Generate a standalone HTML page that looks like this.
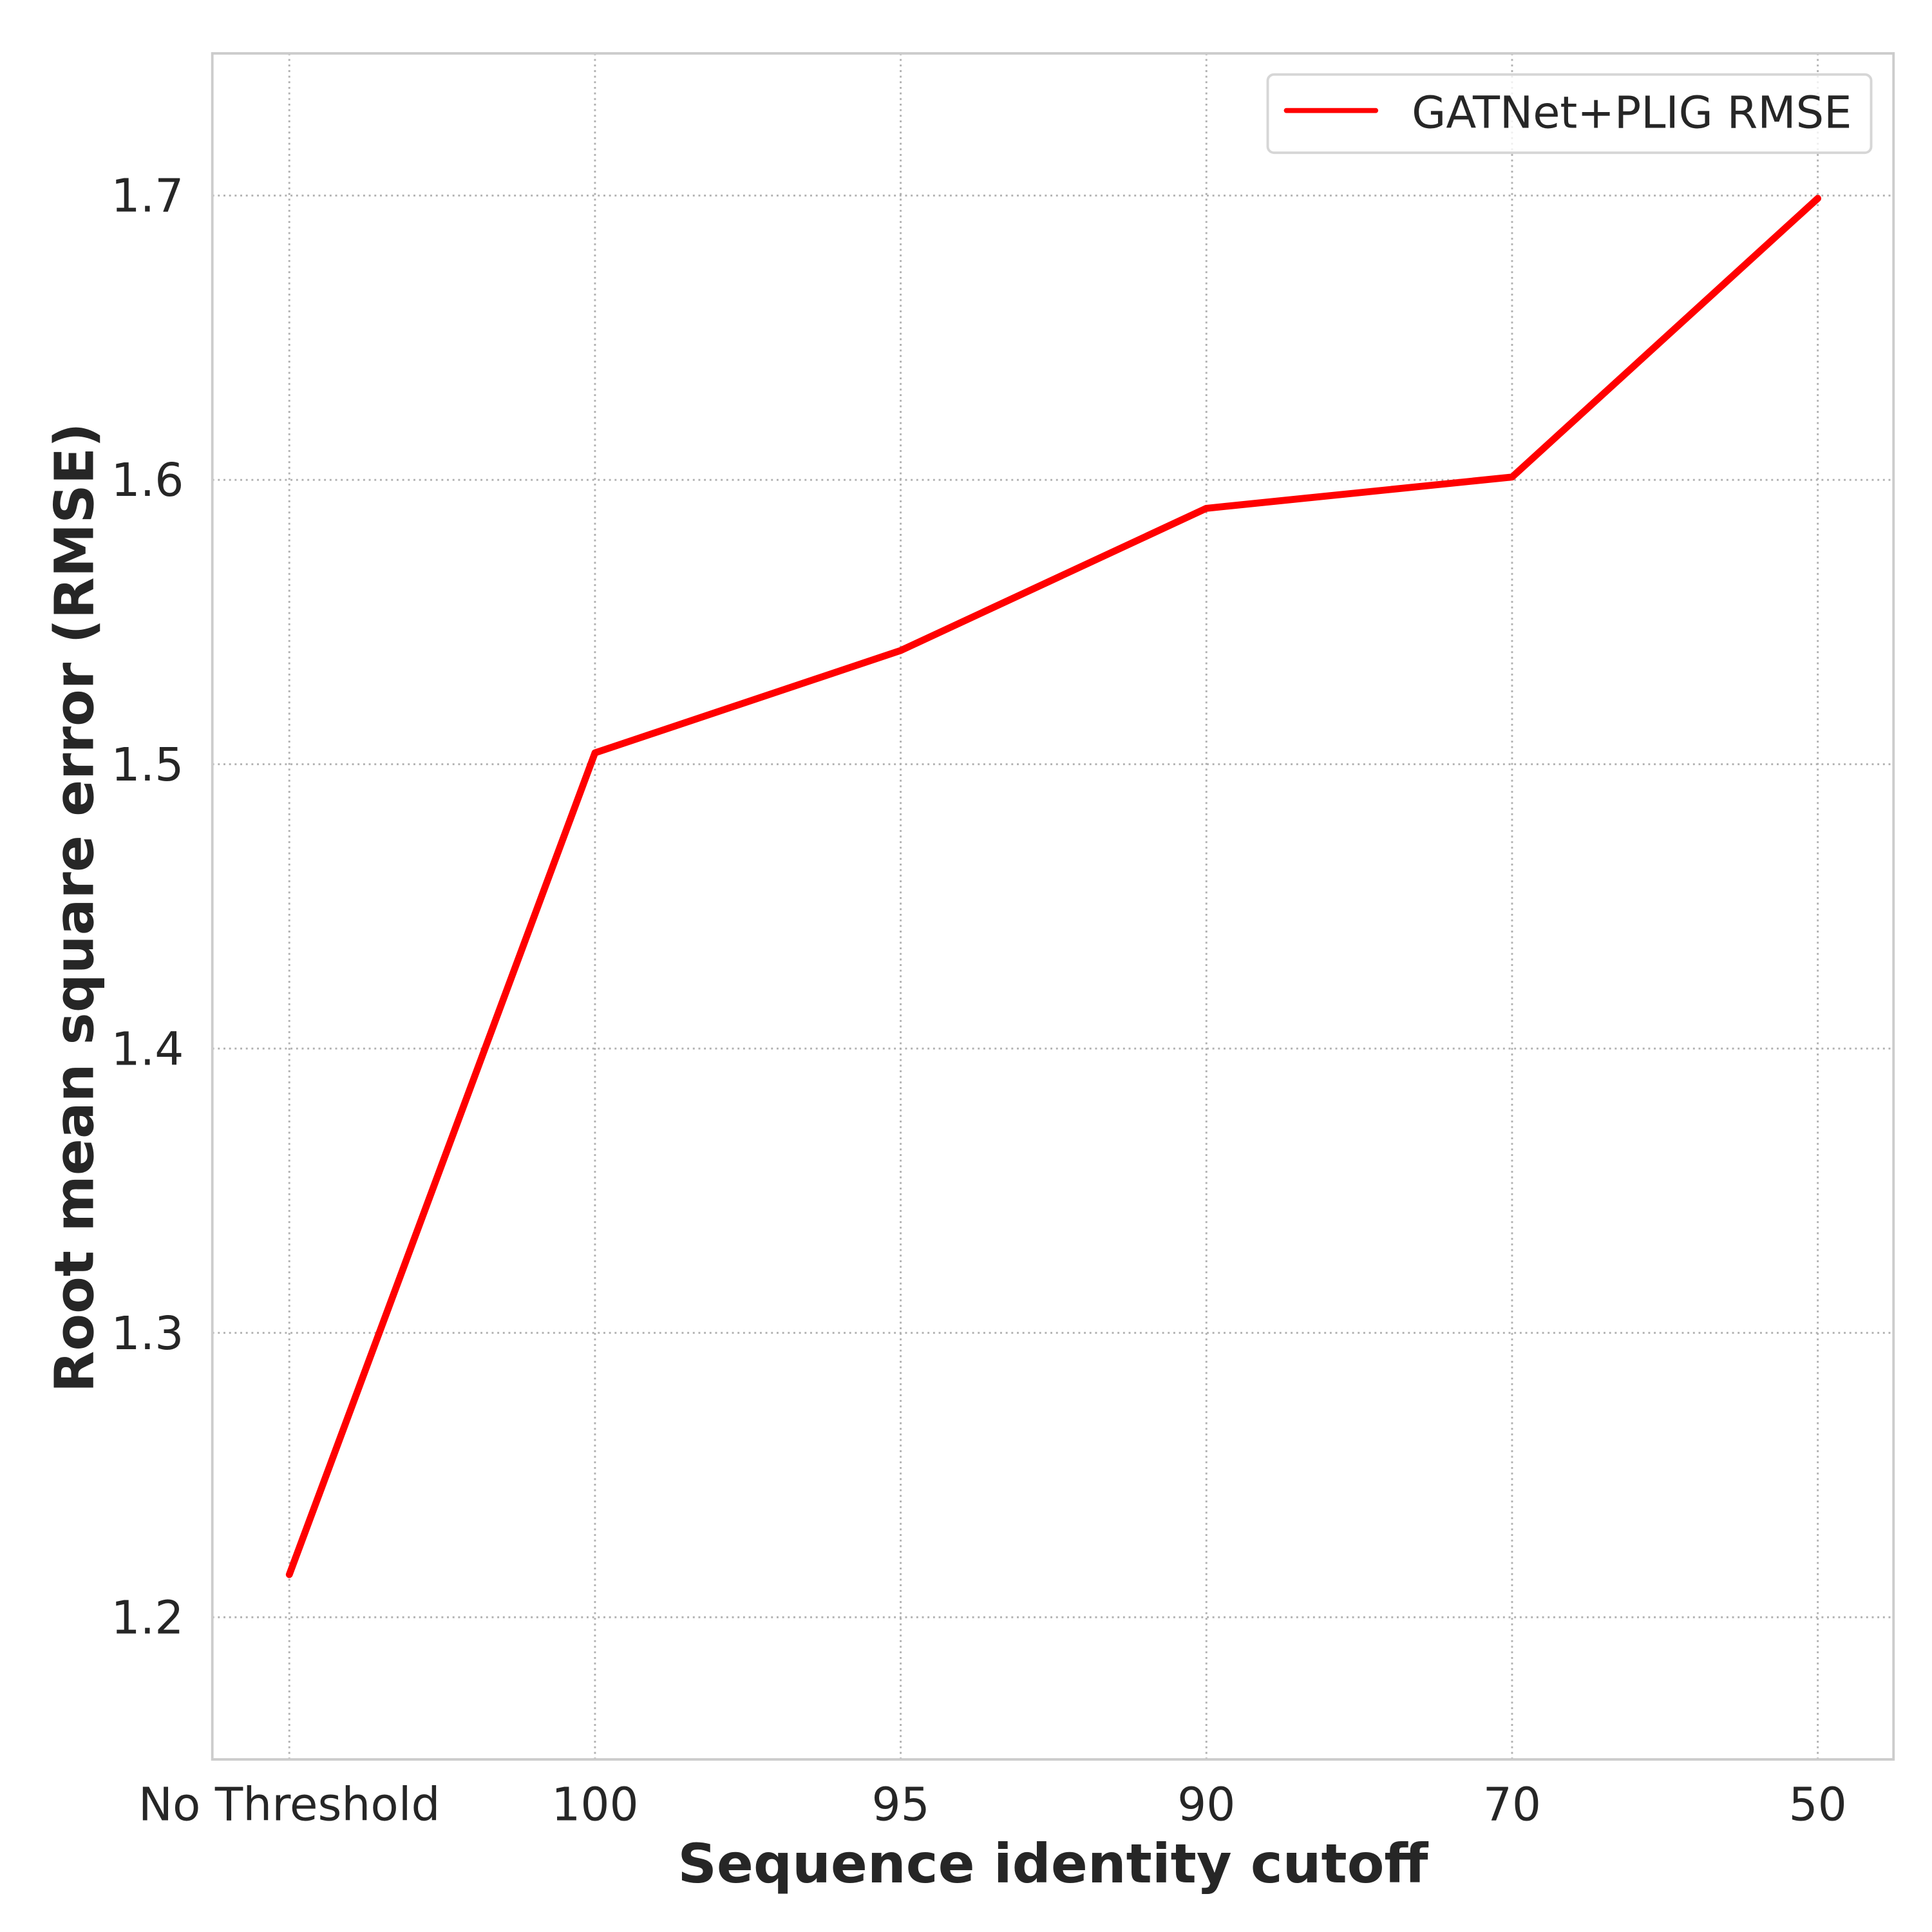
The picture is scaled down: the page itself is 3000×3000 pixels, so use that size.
<!DOCTYPE html>
<html><head><meta charset="utf-8"><style>html,body{margin:0;padding:0;background:#fff}svg{display:block}text{font-family:"DejaVu Sans","Liberation Sans",sans-serif;fill:#262626}</style></head>
<body>
<svg id="chart" width="3000" height="3000" viewBox="0 0 1556 1556" xmlns="http://www.w3.org/2000/svg">
<rect x="171" y="43" width="1354" height="1374" fill="#fff"/>
<g id="grid"></g>
<g id="ticks"></g>
<rect x="171" y="43" width="1354" height="1374" fill="none" stroke="#cccccc" stroke-width="2"/>
<g id="series"></g>
<text x="848" y="1516" font-size="43.6" font-weight="bold" text-anchor="middle">Sequence identity cutoff</text>
<text transform="translate(75,731) rotate(-90)" font-size="43.6" font-weight="bold" text-anchor="middle">Root mean square error (RMSE)</text>
<g>
<rect x="1021" y="60" width="486" height="63" rx="5" fill="#fff" fill-opacity="0.8" stroke="#d6d6d6" stroke-width="2"/>
<line x1="1036" y1="89" x2="1108" y2="89" stroke="#ff0000" stroke-width="4" stroke-linecap="round"/>
<text x="1137" y="103" font-size="35.6">GATNet+PLIG RMSE</text>
</g>
</svg>
<script>
const categories = ["No Threshold", "100", "95", "90", "70", "50"];
const rmseValues = [1.215, 1.504, 1.540, 1.590, 1.601, 1.699];
const yTicks = [1.2, 1.3, 1.4, 1.5, 1.6, 1.7];
const yTickLabels = ["1.2", "1.3", "1.4", "1.5", "1.6", "1.7"];

const NS = "http://www.w3.org/2000/svg";
const X0 = 233, XSTEP = 246.2;
const Y_MIN = 1.15, Y_MAX = 1.75, PT = 43, PB = 1417;
function xPos(i) { return X0 + i * XSTEP; }
function yPos(v) { return PB - (v - Y_MIN) / (Y_MAX - Y_MIN) * (PB - PT); }
function mk(tag, attrs, parent) {
  const el = document.createElementNS(NS, tag);
  for (const k in attrs) el.setAttribute(k, attrs[k]);
  parent.appendChild(el);
  return el;
}
const grid = document.getElementById("grid");
const ticks = document.getElementById("ticks");
const series = document.getElementById("series");

categories.forEach((c, i) => {
  const g = mk("line", {x1: xPos(i), x2: xPos(i), y1: PT, y2: PB, stroke: "#b0b0b0", "stroke-width": 1.5, "stroke-dasharray": "1.5 3"}, grid);
  
  
  const t = mk("text", {x: xPos(i), y: 1466, "font-size": 36.8, "text-anchor": "middle"}, ticks);
  t.textContent = c;
  
  
});
yTicks.forEach((v, i) => {
  const g = mk("line", {x1: 171, x2: 1525, y1: yPos(v), y2: yPos(v), stroke: "#b0b0b0", "stroke-width": 1.5, "stroke-dasharray": "1.5 3"}, grid);
  
  
  const t = mk("text", {x: 148, y: yPos(v) + 13, "font-size": 36.8, "text-anchor": "end"}, ticks);
  t.textContent = yTickLabels[i];
  
  
});
const pts = rmseValues.map((v, i) => xPos(i) + "," + yPos(v)).join(" ");
const line = mk("polyline", {points: pts, fill: "none", stroke: "#ff0000", "stroke-width": 5.6, "stroke-linejoin": "round", "stroke-linecap": "round"}, series);


</script>
</body></html>
